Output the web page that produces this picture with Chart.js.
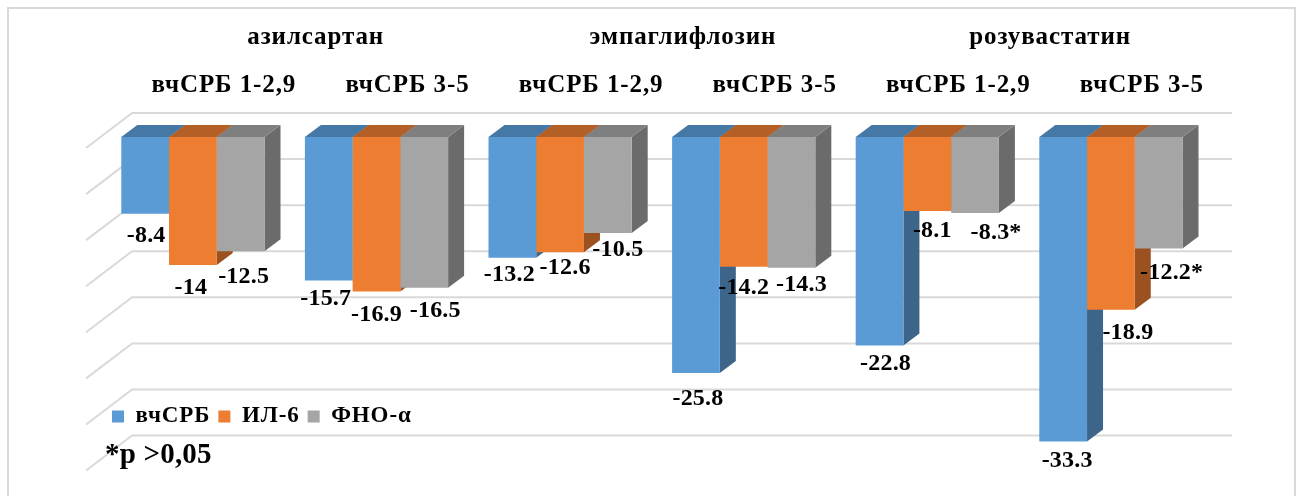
<!DOCTYPE html>
<html>
<head>
<meta charset="utf-8">
<script src="https://cdn.jsdelivr.net/npm/chart.js@4"></script>
<style>
  html, body { margin: 0; background: #fff; overflow: hidden; }
  #frame { position: absolute; left: 7px; top: 7px; width: 1285px; height: 500px; border: 2px solid #d9d9d9; }
  #chart { position: absolute; left: 0; top: 0; }
</style>
</head>
<body>
<div id="frame"></div>
<canvas id="chart" width="1301" height="496"></canvas>
<script>
const groupNames = ['азилсартан', 'эмпаглифлозин', 'розувастатин'];
const categories = ['вчСРБ 1-2,9', 'вчСРБ 3-5', 'вчСРБ 1-2,9', 'вчСРБ 3-5', 'вчСРБ 1-2,9', 'вчСРБ 3-5'];
const crpValues = [-8.4, -15.7, -13.2, -25.8, -22.8, -33.3];
const il6Values = [-14, -16.9, -12.6, -14.2, -8.1, -18.9];
const tnfValues = [-12.5, -16.5, -10.5, -14.3, -8.3, -12.2];
const yTicksStep = 5;
const noteText = '*p >0,05';

// asterisks on the labels that are not significant
const il6Suffix = ['', '', '', '', '', ''];
const tnfSuffix = ['', '', '', '', '*', '*'];

// hand placed data labels, as in the original: shift from the end of each bar
const labelShifts = [
  { dx: [1, -3, -3, 2, 6, 4], dy: [22, 18, 17, 26, 18, 19] },
  { dx: [-2, 0, 5, 0, 5, 17], dy: [23, 23, 16, 21, 20, 23] },
  { dx: [3, 11, 10, 10, 21, 13], dy: [26, 23, 17, 17, 20, 24] }
];

const serif = 'Liberation Serif';
const depth = { dx: 16, dy: -12 };   // bar depth
const wall = { dx: 31, dy: -24, right: 1232, stretch: 1.008 };   // wall is slightly taller than the bars
const floorEdge = { dx: -15, dy: 11 };

// draws the back wall lines and the slanted lines on the side wall
const wallPlugin = {
  id: 'wall',
  beforeDraw(chart) {
    const { ctx, chartArea, scales } = chart;
    // the original text is a bit wider than the font
    ctx.letterSpacing = '0.9px';
    ctx.save();
    ctx.strokeStyle = '#d9d9d9';
    ctx.lineWidth = 2;
    scales.y.ticks.forEach(t => {
      const y = chartArea.top + (scales.y.getPixelForValue(t.value) - chartArea.top) * wall.stretch;
      ctx.beginPath();
      ctx.moveTo(chartArea.left + floorEdge.dx, y + floorEdge.dy);
      ctx.lineTo(chartArea.left + wall.dx, y + wall.dy);
      ctx.lineTo(wall.right, y + wall.dy);
      ctx.stroke();
    });
    ctx.restore();
  }
};

// side and top faces of the bars, the front face is the normal bar
const facesPlugin = {
  id: 'faces',
  beforeDatasetsDraw(chart) {
    const ctx = chart.ctx;
    function face(points, color) {
      ctx.fillStyle = color;
      ctx.beginPath();
      points.forEach((p, i) => i ? ctx.lineTo(p[0], p[1]) : ctx.moveTo(p[0], p[1]));
      ctx.closePath();
      ctx.fill();
    }
    categories.forEach((c, j) => {
      chart.data.datasets.forEach((ds, i) => {
        const bar = chart.getDatasetMeta(i).data[j];
        const r = bar.x + bar.width / 2;
        face([[r, bar.base], [r + depth.dx, bar.base + depth.dy], [r + depth.dx, bar.y + depth.dy], [r, bar.y]], ds.sideColor);
      });
      chart.data.datasets.forEach((ds, i) => {
        const bar = chart.getDatasetMeta(i).data[j];
        const l = bar.x - bar.width / 2, r = bar.x + bar.width / 2;
        face([[l, bar.base], [r, bar.base], [r + depth.dx, bar.base + depth.dy], [l + depth.dx, bar.base + depth.dy]], ds.topColor);
      });
    });
  }
};

const labelsPlugin = {
  id: 'valueLabels',
  afterDatasetsDraw(chart) {
    const ctx = chart.ctx;
    ctx.save();
    ctx.fillStyle = '#000';
    ctx.letterSpacing = '0.2px';
    ctx.font = 'bold 24px "' + serif + '"';
    ctx.textAlign = 'center';
    ctx.textBaseline = 'middle';
    chart.data.datasets.forEach((ds, i) => {
      chart.getDatasetMeta(i).data.forEach((bar, j) => {
        const text = ds.data[j] + ds.suffix[j];
        ctx.fillText(text, bar.x + labelShifts[i].dx[j], bar.y + labelShifts[i].dy[j]);
      });
    });
    ctx.font = 'bold 29px "' + serif + '"';
    ctx.textAlign = 'left';
    ctx.textBaseline = 'alphabetic';
    ctx.fillText(noteText, 105, 463);
    ctx.restore();
  }
};

// the legend sits inside the plot in the original
const legendMove = {
  id: 'legendMove',
  afterLayout(chart) {
    const lg = chart.legend;
    const h = lg.bottom - lg.top;
    lg.left = 104;
    lg.right = 1200;
    lg.top = 397;
    lg.bottom = 397 + h;
  }
};

new Chart(document.getElementById('chart'), {
  type: 'bar',
  data: {
    labels: categories,
    datasets: [
      { label: 'вчСРБ', data: crpValues, backgroundColor: '#5b9bd5', sideColor: '#3d658a', topColor: '#4678a5', suffix: ['', '', '', '', '', ''] },
      { label: 'ИЛ-6', data: il6Values, backgroundColor: '#ed7d31', sideColor: '#9c5220', topColor: '#b45f25', suffix: il6Suffix },
      { label: 'ФНО-α', data: tnfValues, backgroundColor: '#a5a5a5', sideColor: '#6b6b6b', topColor: '#7f7f7f', suffix: tnfSuffix }
    ]
  },
  options: {
    responsive: false,
    animation: false,
    layout: { padding: { left: 101.1, right: 98.3, top: 0, bottom: -2 } },
    datasets: { bar: { barPercentage: 1, categoryPercentage: 0.78, borderWidth: 0 } },
    plugins: {
      tooltip: { enabled: false },
      legend: {
        position: 'bottom',
        align: 'start',
        labels: {
          boxWidth: 12,
          boxHeight: 12,
          padding: 8,
          color: '#000',
          font: { family: serif, size: 23, weight: 'bold' }
        }
      }
    },
    scales: {
      x: {
        position: 'top',
        offset: true,
        weight: 1,
        grid: { display: false, drawTicks: false },
        border: { display: false },
        ticks: {
          color: '#000',
          padding: 36,
          labelOffset: 31,
          maxRotation: 0,
          autoSkip: false,
          font: { family: serif, size: 25, weight: 'bold' }
        },
        afterFit: s => { s.height = 77; }
      },
      xGroup: {
        type: 'category',
        axis: 'x',
        position: 'top',
        offset: true,
        weight: 2,
        labels: groupNames,
        grid: { display: false, drawTicks: false },
        border: { display: false },
        ticks: {
          color: '#000',
          padding: 7,
          labelOffset: 31,
          maxRotation: 0,
          autoSkip: false,
          font: { family: serif, size: 25, weight: 'bold' }
        },
        afterFit: s => { s.height = 60; }
      },
      y: {
        display: false,
        min: -35,
        max: 0,
        ticks: { stepSize: yTicksStep }
      }
    }
  },
  plugins: [wallPlugin, facesPlugin, labelsPlugin, legendMove]
});
</script>
</body>
</html>
